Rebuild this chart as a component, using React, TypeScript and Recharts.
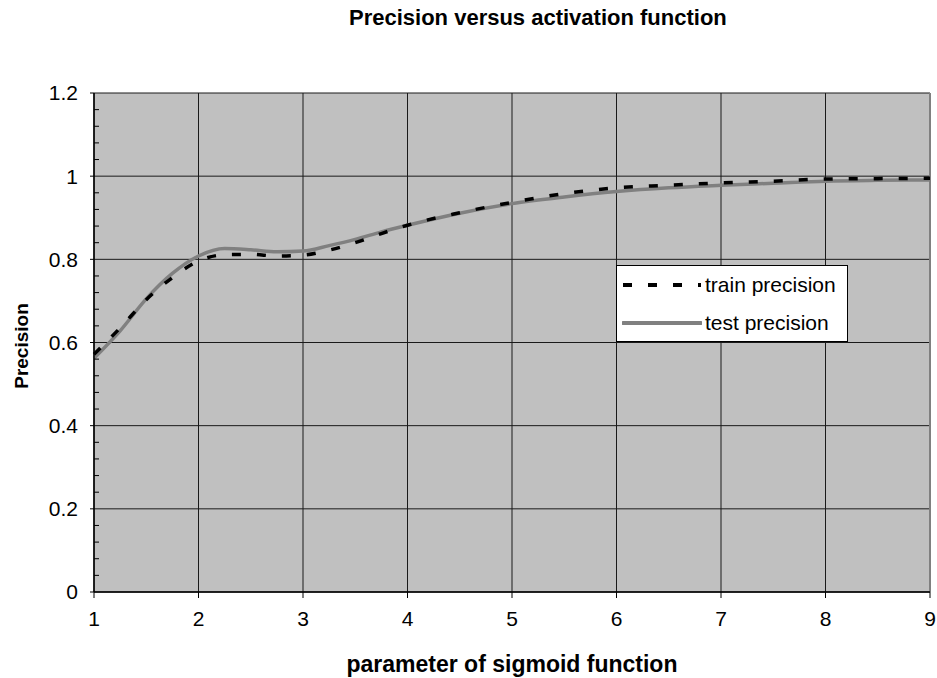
import { LineChart, Line, XAxis, YAxis, CartesianGrid, ReferenceLine } from 'recharts';

const params = [1, 1.25, 1.5, 1.75, 2, 2.25, 2.5, 2.75, 3, 3.25, 3.5, 3.75, 4, 4.5, 5, 5.5, 6, 6.5, 7, 7.5, 8, 8.5, 9];
const trainPrecision = [0.572, 0.635, 0.703, 0.756, 0.796, 0.811, 0.812, 0.808, 0.81, 0.822, 0.84, 0.862, 0.882, 0.912, 0.937, 0.958, 0.972, 0.978, 0.984, 0.988, 0.993, 0.994, 0.995];
const testPrecision = [0.562, 0.628, 0.705, 0.766, 0.808, 0.826, 0.823, 0.818, 0.82, 0.833, 0.848, 0.866, 0.882, 0.911, 0.934, 0.95, 0.963, 0.972, 0.978, 0.983, 0.988, 0.99, 0.991];

const xTicks = [1, 2, 3, 4, 5, 6, 7, 8, 9];
const yMajorTicks = [0, 0.2, 0.4, 0.6, 0.8, 1, 1.2];
const yMinorPerMajor = 5;

const seriesNames = ['train precision', 'test precision'];

const data = params.map((p, i) => ({ p, train: trainPrecision[i], test: testPrecision[i] }));

// every 0.04 step, major ones get a label
const yAllTicks: number[] = [];
yMajorTicks.forEach((t, i) => {
  yAllTicks.push(t);
  if (i < yMajorTicks.length - 1) {
    const step = (yMajorTicks[i + 1] - t) / yMinorPerMajor;
    for (let k = 1; k < yMinorPerMajor; k++) yAllTicks.push(+(t + k * step).toFixed(4));
  }
});

const FONT = '"Liberation Sans", Arial, sans-serif';
const TICK_GAP = 16;

const YTick = (props: any) => {
  const { x, y, payload } = props;
  const v = payload.value as number;
  const isMajor = yMajorTicks.some(t => Math.abs(t - v) < 1e-6);
  const ax = x + TICK_GAP;
  if (!isMajor) {
    return <line x1={ax} x2={ax + 5} y1={y} y2={y} stroke="#000" strokeWidth={1} />;
  }
  return (
    <g>
      <line x1={ax - 4} x2={ax} y1={y} y2={y} stroke="#000" strokeWidth={1} />
      <text x={x} y={y} dy="0.35em" textAnchor="end" fontSize={21} fontFamily={FONT} fill="#000">
        {String(Number(v.toFixed(1)))}
      </text>
    </g>
  );
};

export default function App() {
  return (
    <div style={{ position: 'absolute', left: 0, top: 0, width: 937, height: 678, background: '#fff', fontFamily: FONT }}>
      <div style={{ position: 'absolute', left: 349, top: 5, fontSize: 22, fontWeight: 'bold', whiteSpace: 'nowrap' }}>
        Precision versus activation function
      </div>

      <LineChart width={937} height={678} data={data} margin={{ top: 93, right: 7, bottom: 0, left: 0 }}>
        <CartesianGrid
          fill="#c0c0c0"
          stroke="#1a1a1a"
          strokeWidth={1}
          horizontalValues={yMajorTicks}
          verticalValues={xTicks}
        />
        <XAxis
          dataKey="p"
          type="number"
          domain={[1, 9]}
          ticks={xTicks}
          height={86}
          tickSize={6}
          tickMargin={13}
          tick={{ fill: '#000', fontSize: 21, fontFamily: FONT }}
          axisLine={{ stroke: '#000', strokeWidth: 1.5 }}
          tickLine={{ stroke: '#000' }}
        />
        <YAxis
          type="number"
          domain={[0, 1.2]}
          ticks={yAllTicks}
          interval={0}
          width={94}
          tickSize={0}
          tickMargin={TICK_GAP}
          tick={YTick}
          tickLine={false}
          axisLine={{ stroke: '#000', strokeWidth: 1.5 }}
        />
        <ReferenceLine x={9} stroke="#808080" strokeWidth={2} />
        <Line
          type="monotone"
          dataKey="test"
          name={seriesNames[1]}
          stroke="#808080"
          strokeWidth={3.5}
          dot={false}
          isAnimationActive={false}
        />
        <Line
          type="monotone"
          dataKey="train"
          name={seriesNames[0]}
          stroke="#000"
          strokeWidth={3.5}
          strokeDasharray="9 16"
          dot={false}
          isAnimationActive={false}
        />
      </LineChart>

      <div
        style={{
          position: 'absolute', left: 616, top: 265, width: 232, height: 77, boxSizing: 'border-box',
          background: '#fff', border: '1px solid #000'
        }}
      >
        {seriesNames.map((name, i) => (
          <div key={name} style={{ position: 'absolute', left: 5, top: i === 0 ? 7 : 45, height: 24, display: 'flex', alignItems: 'center' }}>
            <svg width={80} height={24}>
              {i === 0 ? (
                <line x1={1} x2={79} y1={12} y2={12} stroke="#000" strokeWidth={4} strokeDasharray="9 16" />
              ) : (
                <line x1={1} x2={79} y1={12} y2={12} stroke="#808080" strokeWidth={4} strokeLinecap="round" />
              )}
            </svg>
            <span style={{ fontSize: 21, marginLeft: 3, whiteSpace: 'nowrap' }}>{name}</span>
          </div>
        ))}
      </div>

      <div style={{ position: 'absolute', left: 0, width: 1024, top: 651, textAlign: 'center', fontSize: 23, fontWeight: 'bold', whiteSpace: 'nowrap' }}>
        parameter of sigmoid function
      </div>
      <div
        style={{
          position: 'absolute', left: 22, top: 346, transform: 'translate(-50%, -50%) rotate(-90deg)',
          fontSize: 19, fontWeight: 'bold', whiteSpace: 'nowrap'
        }}
      >
        Precision
      </div>
    </div>
  );
}
